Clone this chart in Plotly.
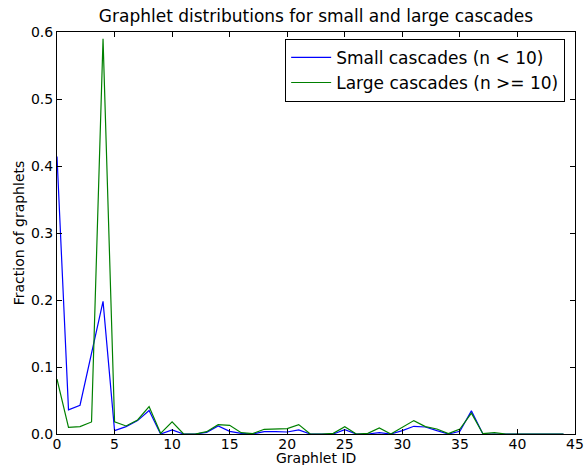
import plotly.graph_objects as go

# Graphlet IDs 0..44
graphlet_ids = list(range(45))

# Fraction of graphlets, small cascades (n < 10)
small_cascades = [
    0.414, 0.036, 0.043, 0.120, 0.198, 0.005, 0.011, 0.020, 0.035, 0.000,
    0.006, 0.000, 0.000, 0.0025, 0.012, 0.004, 0.001, 0.000, 0.0035, 0.0035,
    0.003, 0.006, 0.000, 0.000, 0.000, 0.0065, 0.000, 0.000, 0.002, 0.000,
    0.005, 0.0115, 0.0105, 0.005, 0.000, 0.004, 0.0345, 0.000, 0.000, 0.000,
    0.000, 0.000, 0.0005, 0.000, 0.000,
]

# Fraction of graphlets, large cascades (n >= 10)
large_cascades = [
    0.082, 0.010, 0.011, 0.018, 0.590, 0.018, 0.012, 0.021, 0.041, 0.001,
    0.018, 0.000, 0.000, 0.0035, 0.014, 0.013, 0.002, 0.0005, 0.007, 0.007,
    0.008, 0.014, 0.000, 0.000, 0.001, 0.011, 0.000, 0.001, 0.009, 0.000,
    0.010, 0.020, 0.011, 0.0075, 0.0005, 0.0075, 0.031, 0.0005, 0.002, 0.000,
    0.000, 0.000, 0.000, 0.000, 0.000,
]

x_ticks = [0, 5, 10, 15, 20, 25, 30, 35, 40, 45]
y_ticks = [0.0, 0.1, 0.2, 0.3, 0.4, 0.5, 0.6]

FONT = "DejaVu Sans"
L, R, T, B = 57, 9, 32, 31
W, H = 584, 465
PLOT_H = H - T - B

fig = go.Figure()
fig.add_trace(go.Scatter(
    x=graphlet_ids, y=small_cascades, mode="lines",
    name="Small cascades (n < 10)",
    line=dict(color="#0000ff", width=1.2),
))
fig.add_trace(go.Scatter(
    x=graphlet_ids, y=large_cascades, mode="lines",
    name="Large cascades (n >= 10)",
    line=dict(color="#008000", width=1.2),
))

axis_common = dict(
    showgrid=False, zeroline=False,
    showline=True, linecolor="black", linewidth=1, mirror="ticks",
    ticks="inside", ticklen=5, tickcolor="black", tickwidth=1,
    tickfont=dict(family=FONT, size=14, color="black"),
    automargin=False,
)

fig.update_xaxes(
    range=[0, 45], tickvals=x_ticks, ticktext=[str(v) for v in x_ticks],
    ticklabeloverflow="allow", ticklabelstandoff=-3,
    **axis_common,
)
fig.update_yaxes(
    range=[0, 0.6], tickvals=y_ticks, ticktext=[f"{v:.1f}" for v in y_ticks],
    title=dict(text="Fraction of graphlets", font=dict(family=FONT, size=14, color="black"), standoff=3),
    **axis_common,
)

# x-axis label sits just below the tick labels, at the bottom edge
fig.add_annotation(
    text="Graphlet ID", xref="paper", yref="paper",
    x=0.5, xanchor="center", y=-(458 - (H - B)) / PLOT_H, yanchor="middle",
    showarrow=False, font=dict(family=FONT, size=14, color="black"),
)

fig.update_layout(
    width=W, height=H,
    margin=dict(l=L, r=R, t=T, b=B),
    paper_bgcolor="white", plot_bgcolor="white",
    title=dict(
        text="Graphlet distributions for small and large cascades",
        font=dict(family=FONT, size=17, color="black"),
        x=(L + (W - L - R) / 2) / W, xanchor="center",
        y=1 - 16 / H, yanchor="middle",
    ),
    legend=dict(
        x=0.981, xanchor="right", y=0.983, yanchor="top",
        bordercolor="black", borderwidth=1, bgcolor="white",
        font=dict(family=FONT, size=17, color="black"),
        itemwidth=40, tracegroupgap=0,
    ),
    showlegend=True,
)

fig.write_html("out.html")
